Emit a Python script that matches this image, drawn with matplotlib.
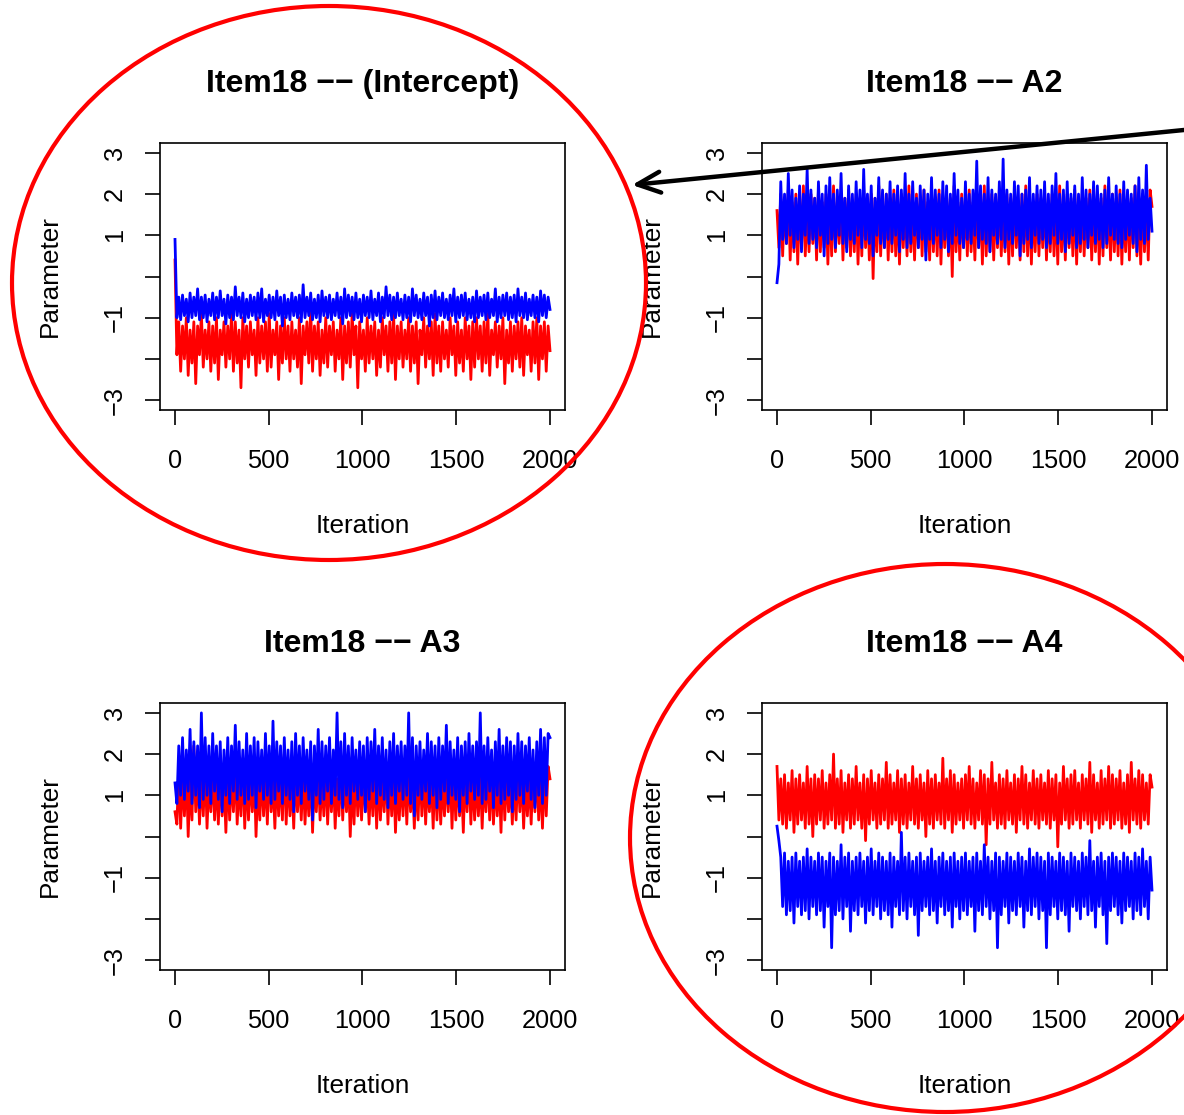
import numpy as np
import matplotlib
matplotlib.use('Agg')
import matplotlib.pyplot as plt
from matplotlib.patches import Ellipse

plt.rcParams['font.family'] = ['Liberation Sans', 'DejaVu Sans']

# ---------------- data ----------------
titles = ['Item18 \u2212\u2212 (Intercept)', 'Item18 \u2212\u2212 A2',
          'Item18 \u2212\u2212 A3', 'Item18 \u2212\u2212 A4']
x_ticks = [0, 500, 1000, 1500, 2000]
x_tick_labels = ['0', '500', '1000', '1500', '2000']
y_ticks = [-3, -2, -1, 0, 1, 2, 3]
y_tick_labels = ['\u22123', '', '\u22121', '', '1', '2', '3']
n_iter = 2000
chain_colors = ['#FF0000', '#0000FF']

# thinned chains (about every 10th iteration)
intercept_red = [
    0.4, -1.9, -1.1, -2.3, -1.2, -2.0, -1.0, -2.4, -1.3, -2.1, -1.1, -2.6, -1.2, -1.9, -0.9, -2.2, -1.3, -2.0, -1.1, -2.3,
    -1.2, -2.1, -1.0, -2.5, -1.3, -1.9, -1.1, -2.2, -1.2, -2.0, -0.9, -2.3, -1.1, -2.1, -1.3, -2.7, -1.0, -2.0, -1.2, -2.2,
    -1.1, -1.9, -1.3, -2.4, -1.0, -2.1, -1.2, -2.0, -1.1, -2.3, -0.9, -2.2, -1.3, -1.9, -1.1, -2.5, -1.2, -2.1, -1.0, -2.0,
    -1.2, -2.3, -1.1, -2.0, -1.3, -2.2, -1.0, -2.6, -1.2, -1.9, -1.1, -2.1, -0.8, -2.3, -1.2, -2.0, -1.1, -2.4, -1.3, -2.1,
    -1.0, -2.2, -1.2, -1.9, -1.1, -2.3, -1.3, -2.0, -1.0, -2.5, -1.2, -2.1, -1.1, -2.2, -0.9, -1.9, -1.2, -2.7, -1.1, -2.0,
    -1.3, -2.3, -1.0, -2.1, -1.2, -2.0, -1.1, -2.4, -1.3, -2.2, -1.0, -1.9, -1.2, -2.3, -1.1, -2.1, -0.9, -2.5, -1.2, -2.0,
    -1.1, -2.2, -1.3, -2.0, -1.0, -2.3, -1.2, -2.1, -1.1, -2.6, -1.3, -1.9, -1.0, -2.2, -1.2, -2.0, -1.1, -2.4, -0.9, -2.1,
    -1.2, -2.3, -1.1, -2.0, -1.3, -2.2, -1.0, -1.9, -1.2, -2.4, -1.1, -2.1, -1.3, -2.3, -1.0, -2.0, -1.2, -2.5, -1.1, -2.2,
    -1.0, -2.0, -1.2, -2.3, -1.1, -2.1, -0.9, -2.4, -1.3, -1.9, -1.1, -2.2, -1.2, -2.0, -1.0, -2.6, -1.3, -2.1, -1.1, -2.3,
    -1.2, -2.0, -1.1, -2.2, -1.0, -2.4, -1.2, -1.9, -1.3, -2.3, -1.1, -2.1, -1.0, -2.5, -1.2, -2.0, -1.1, -2.3, -1.2, -1.8]
intercept_blue = [
    0.9, -1.0, -0.5, -1.05, -0.45, -0.95, -0.55, -1.1, -0.4, -1.0, -0.5, -0.95, -0.3, -1.05, -0.5, -1.0, -0.45, -1.1, -0.55, -0.95,
    -0.4, -1.05, -0.5, -1.0, -0.35, -0.95, -0.55, -1.15, -0.45, -1.0, -0.5, -1.05, -0.25, -0.95, -0.5, -1.0, -0.4, -1.1, -0.55, -1.0,
    -0.45, -0.95, -0.5, -1.05, -0.4, -1.0, -0.3, -1.1, -0.55, -0.95, -0.45, -1.0, -0.5, -1.05, -0.35, -0.95, -0.5, -1.2, -0.45, -1.0,
    -0.55, -1.05, -0.4, -0.95, -0.5, -1.0, -0.45, -1.1, -0.2, -1.0, -0.5, -0.95, -0.4, -1.05, -0.55, -1.0, -0.45, -1.1, -0.35, -0.95,
    -0.5, -1.0, -0.45, -1.05, -0.55, -0.95, -0.4, -1.0, -0.5, -1.15, -0.3, -1.0, -0.45, -0.95, -0.5, -1.05, -0.4, -1.0, -0.55, -1.1,
    -0.45, -0.95, -0.5, -1.0, -0.35, -1.05, -0.55, -0.95, -0.4, -1.1, -0.5, -1.0, -0.25, -0.95, -0.45, -1.05, -0.5, -1.0, -0.4, -0.95,
    -0.55, -1.05, -0.45, -1.0, -0.5, -1.1, -0.3, -0.95, -0.45, -1.0, -0.55, -1.05, -0.4, -0.95, -0.5, -1.2, -0.45, -1.0, -0.35, -1.05,
    -0.5, -0.95, -0.4, -1.0, -0.55, -1.05, -0.45, -0.95, -0.3, -1.1, -0.5, -1.0, -0.45, -0.95, -0.4, -1.05, -0.55, -1.0, -0.5, -1.1,
    -0.35, -1.0, -0.5, -0.95, -0.45, -1.05, -0.4, -1.0, -0.55, -0.95, -0.3, -1.1, -0.5, -1.0, -0.45, -0.95, -0.4, -1.05, -0.5, -1.0,
    -0.45, -1.1, -0.3, -0.95, -0.5, -1.0, -0.4, -1.05, -0.55, -0.95, -0.45, -1.0, -0.5, -1.1, -0.35, -0.95, -0.45, -1.0, -0.5, -0.8]

a2_red = [
    1.6, 0.7, 2.0, 0.5, 1.9, 0.8, 2.1, 0.4, 1.8, 0.6, 2.0, 0.3, 1.9, 0.7, 2.2, 0.5, 1.8, 0.6, 2.0, 0.8,
    1.9, 0.4, 2.1, 0.6, 1.8, 0.7, 2.0, 0.3, 1.9, 0.5, 2.2, 0.6, 1.8, 0.8, 2.0, 0.4, 1.9, 0.7, 2.1, 0.5,
    1.8, 0.6, 2.0, 0.3, 1.9, 0.5, 2.1, 0.7, 1.8, 0.4, 2.0, -0.05, 1.9, 0.6, 2.2, 0.5, 1.8, 0.7, 2.0, 0.4,
    1.9, 0.6, 2.1, 0.5, 1.8, 0.3, 2.0, 0.7, 1.9, 0.5, 2.2, 0.6, 1.8, 0.4, 2.0, 0.7, 1.9, 0.5, 2.1, 0.6,
    1.8, 0.4, 2.0, 0.6, 1.9, 0.5, 2.1, 0.3, 1.8, 0.7, 2.0, 0.5, 1.9, 0.0, 2.2, 0.6, 1.8, 0.4, 2.0, 0.7,
    1.9, 0.5, 2.1, 0.6, 1.8, 0.4, 2.0, 0.7, 1.9, 0.3, 2.2, 0.5, 1.8, 0.6, 2.0, 0.4, 1.9, 0.7, 2.1, 0.5,
    1.8, 0.6, 2.0, 0.3, 1.9, 0.5, 2.1, 0.7, 1.8, 0.4, 2.0, 0.6, 2.2, 0.5, 1.9, 0.3, 1.8, 0.6, 2.0, 0.5,
    1.9, 0.7, 2.1, 0.4, 1.8, 0.6, 2.0, 0.5, 1.9, 0.3, 2.2, 0.6, 1.8, 0.4, 2.0, 0.7, 1.9, 0.5, 2.1, 0.3,
    1.8, 0.6, 2.0, 0.5, 1.9, 0.7, 2.1, 0.4, 1.8, 0.6, 2.0, 0.3, 1.9, 0.5, 2.2, 0.7, 1.8, 0.4, 2.0, 0.6,
    1.9, 0.5, 2.1, 0.3, 1.8, 0.6, 2.0, 0.4, 1.9, 0.7, 2.2, 0.5, 1.8, 0.3, 2.0, 0.6, 1.9, 0.4, 2.1, 1.7]
a2_blue = [
    -0.15, 0.3, 2.3, 0.9, 2.0, 0.8, 2.5, 1.0, 2.1, 0.7, 1.9, 0.9, 2.2, 0.6, 2.0, 1.0, 2.6, 0.8, 2.1, 0.9,
    1.9, 0.7, 2.3, 1.0, 2.0, 0.5, 2.2, 0.8, 2.4, 0.9, 2.0, 0.7, 2.1, 1.0, 2.5, 0.8, 1.9, 0.6, 2.2, 0.9,
    2.0, 0.8, 2.3, 1.0, 2.1, 0.7, 2.6, 0.9, 2.0, 0.8, 2.2, 0.5, 1.9, 1.0, 2.4, 0.8, 2.1, 0.7, 2.0, 0.9,
    2.3, 0.8, 2.0, 1.0, 2.2, 0.6, 2.1, 0.9, 2.5, 0.7, 2.0, 0.8, 2.3, 1.0, 1.9, 0.7, 2.2, 0.9, 2.1, 0.4,
    2.0, 0.9, 2.4, 0.8, 2.1, 1.0, 2.0, 0.7, 2.3, 0.9, 2.2, 0.6, 2.0, 0.8, 2.5, 1.0, 2.1, 0.8, 1.9, 0.7,
    2.3, 0.9, 2.0, 0.8, 2.1, 1.0, 2.8, 0.7, 2.2, 0.9, 2.0, 0.8, 2.4, 0.6, 2.1, 1.0, 2.0, 0.8, 2.3, 0.9,
    2.85, 0.7, 2.1, 0.9, 2.0, 0.8, 2.3, 1.0, 2.2, 0.5, 2.0, 0.8, 2.1, 0.9, 2.4, 0.7, 2.0, 1.0, 2.2, 0.8,
    2.1, 0.9, 2.3, 0.7, 2.0, 0.8, 2.2, 1.0, 2.5, 0.8, 2.0, 0.9, 2.1, 0.6, 2.3, 0.8, 2.0, 1.0, 2.2, 0.7,
    2.0, 0.8, 2.4, 0.9, 2.1, 0.7, 2.0, 1.0, 2.3, 0.8, 2.2, 0.9, 2.0, 0.7, 2.1, 0.8, 2.4, 1.0, 2.0, 0.9,
    2.2, 0.8, 2.0, 0.7, 2.3, 0.9, 2.1, 1.0, 2.0, 0.8, 2.2, 0.6, 2.4, 0.9, 2.1, 0.8, 2.7, 0.9, 1.9, 1.1]

a3_red = [
    0.6, 0.3, 1.6, 0.2, 1.5, 0.5, 1.7, 0.0, 1.4, 0.4, 2.2, 0.6, 1.6, 0.3, 1.5, 0.5, 1.8, 0.2, 1.4, 0.6,
    1.6, 0.4, 1.5, 0.3, 1.7, 0.5, 1.4, 0.1, 1.6, 0.4, 1.5, 0.6, 1.8, 0.3, 1.4, 0.5, 1.9, 0.2, 1.6, 0.4,
    1.5, 0.6, 1.7, 0.0, 1.4, 0.4, 1.6, 0.5, 1.5, 0.3, 1.8, 0.6, 1.4, 0.2, 1.6, 0.5, 1.5, 0.4, 2.0, 0.3,
    1.6, 0.5, 1.4, 0.2, 1.7, 0.6, 1.5, 0.4, 1.6, 0.3, 1.4, 0.5, 1.8, 0.1, 1.5, 0.6, 1.6, 0.4, 1.4, 0.5,
    1.7, 0.3, 1.5, 0.6, 1.6, 0.2, 1.4, 0.5, 1.8, 0.4, 1.5, 0.6, 1.6, 0.0, 1.4, 0.3, 1.7, 0.5, 1.5, 0.4,
    1.6, 0.6, 1.4, 0.3, 1.5, 0.5, 1.7, 0.2, 1.6, 0.4, 1.4, 0.6, 1.8, 0.3, 1.5, 0.5, 1.6, 0.1, 1.4, 0.4,
    1.5, 0.5, 1.7, 0.3, 1.6, 0.6, 1.4, 0.2, 1.5, 0.4, 1.8, 0.5, 1.6, 0.3, 1.4, 0.6, 1.5, 0.2, 1.7, 0.4,
    1.6, 0.3, 1.4, 0.5, 1.5, 0.6, 1.7, 0.2, 1.6, 0.4, 1.5, 0.5, 1.4, 0.1, 1.6, 0.6, 1.8, 0.3, 1.5, 0.4,
    1.4, 0.5, 1.6, 0.2, 1.5, 0.6, 1.7, 0.4, 1.6, 0.3, 1.4, 0.5, 1.5, 0.1, 1.8, 0.4, 1.6, 0.6, 1.4, 0.3,
    1.5, 0.4, 1.7, 0.6, 1.6, 0.2, 1.4, 0.5, 1.5, 0.3, 1.6, 0.6, 1.8, 0.4, 1.5, 0.2, 1.6, 0.5, 1.7, 1.4]
a3_blue = [
    1.3, 0.8, 2.2, 1.0, 2.4, 0.9, 2.1, 1.1, 2.6, 0.8, 2.3, 1.0, 2.2, 0.7, 3.0, 0.9, 2.4, 1.0, 2.2, 0.8,
    2.5, 1.1, 2.2, 0.9, 2.3, 0.6, 2.1, 1.0, 2.4, 0.8, 2.2, 1.1, 2.7, 0.9, 2.3, 1.0, 2.1, 0.8, 2.5, 0.9,
    2.2, 1.0, 2.4, 0.7, 2.3, 1.1, 2.1, 0.9, 2.5, 1.0, 2.2, 0.8, 2.8, 0.9, 2.3, 1.1, 2.2, 0.8, 2.4, 1.0,
    2.1, 0.9, 2.3, 0.6, 2.5, 1.0, 2.2, 0.8, 2.4, 1.1, 2.1, 0.9, 2.3, 0.4, 2.2, 1.0, 2.6, 0.8, 2.3, 0.9,
    2.2, 1.1, 2.4, 0.8, 2.1, 1.0, 3.0, 0.9, 2.3, 0.7, 2.5, 1.0, 2.2, 0.8, 2.4, 1.1, 2.1, 0.9, 2.3, 1.0,
    2.2, 0.6, 2.4, 0.9, 2.3, 1.1, 2.6, 0.8, 2.2, 1.0, 2.4, 0.9, 2.1, 0.7, 2.3, 1.0, 2.5, 0.8, 2.2, 1.1,
    2.3, 0.9, 2.2, 1.0, 3.0, 0.8, 2.4, 0.5, 2.2, 1.0, 2.3, 0.9, 2.1, 1.1, 2.5, 0.8, 2.3, 1.0, 2.2, 0.7,
    2.4, 0.9, 2.2, 1.1, 2.7, 0.8, 2.3, 1.0, 2.1, 0.9, 2.4, 0.6, 2.2, 1.0, 2.3, 0.8, 2.5, 1.1, 2.2, 0.9,
    2.3, 1.0, 3.0, 0.8, 2.2, 0.9, 2.4, 1.1, 2.1, 0.7, 2.3, 1.0, 2.6, 0.8, 2.2, 0.9, 2.4, 1.0, 2.3, 0.6,
    2.2, 0.9, 2.5, 1.0, 2.3, 0.8, 2.2, 1.1, 2.4, 0.9, 2.1, 0.7, 2.3, 1.0, 2.6, 0.8, 2.4, 1.0, 2.5, 2.4]

a4_red = [
    1.7, 0.4, 1.4, 0.3, 1.5, 0.2, 1.3, 0.4, 1.6, 0.1, 1.4, 0.3, 1.5, 0.4, 1.3, 0.2, 1.7, 0.3, 1.4, 0.0,
    1.5, 0.3, 1.4, 0.4, 1.6, 0.2, 1.3, 0.3, 1.5, 0.4, 2.0, 0.2, 1.4, 0.3, 1.6, 0.1, 1.3, 0.4, 1.5, 0.2,
    1.4, 0.3, 1.7, 0.4, 1.3, 0.2, 1.5, -0.1, 1.4, 0.3, 1.6, 0.4, 1.3, 0.2, 1.5, 0.3, 1.4, 0.4, 1.8, 0.2,
    1.5, 0.3, 1.3, 0.4, 1.6, 0.1, 1.4, 0.3, 1.5, 0.2, 1.3, 0.4, 1.7, 0.3, 1.4, 0.2, 1.5, 0.4, 1.3, 0.0,
    1.6, 0.3, 1.4, 0.2, 1.5, 0.4, 1.3, 0.3, 1.9, 0.2, 1.4, 0.4, 1.6, 0.1, 1.5, 0.3, 1.3, 0.4, 1.4, 0.2,
    1.5, 0.4, 1.7, 0.3, 1.4, 0.2, 1.3, 0.4, 1.6, 0.3, 1.5, -0.2, 1.4, 0.3, 1.8, 0.4, 1.3, 0.2, 1.5, 0.3,
    1.4, 0.2, 1.6, 0.4, 1.3, 0.3, 1.5, 0.1, 1.4, 0.4, 1.7, 0.3, 1.5, 0.2, 1.3, 0.4, 1.6, 0.3, 1.4, 0.2,
    1.5, 0.4, 1.3, 0.3, 1.6, 0.2, 1.4, 0.4, 1.5, -0.25, 1.3, 0.3, 1.7, 0.4, 1.4, 0.2, 1.5, 0.3, 1.6, 0.4,
    1.3, 0.2, 1.5, 0.4, 1.4, 0.3, 1.8, 0.1, 1.5, 0.4, 1.3, 0.2, 1.6, 0.3, 1.4, 0.4, 1.7, 0.2, 1.5, 0.3,
    1.4, 0.4, 1.6, 0.2, 1.3, 0.3, 1.5, 0.1, 1.8, 0.4, 1.4, 0.3, 1.6, 0.2, 1.5, 0.4, 1.3, 0.3, 1.5, 1.2]
a4_blue = [
    0.25, -0.1, -0.5, -1.7, -0.4, -1.9, -0.6, -1.8, -0.5, -2.1, -0.4, -1.7, -0.6, -1.9, -0.5, -1.8, -0.3, -2.0, -0.5, -1.7,
    -0.6, -1.9, -0.4, -1.8, -0.5, -2.2, -0.6, -1.7, -0.4, -2.7, -0.5, -1.9, -0.6, -1.8, -0.2, -2.0, -0.5, -1.7, -0.4, -2.3,
    -0.6, -1.8, -0.5, -1.9, -0.4, -1.7, -0.6, -2.1, -0.5, -1.8, -0.3, -1.9, -0.6, -1.7, -0.4, -2.0, -0.5, -1.8, -0.6, -1.9,
    -0.4, -2.2, -0.5, -1.7, -0.6, -1.9, 0.1, -1.8, -0.5, -2.0, -0.4, -1.7, -0.6, -1.9, -0.5, -2.4, -0.4, -1.8, -0.6, -1.7,
    -0.5, -1.9, -0.3, -1.8, -0.6, -2.1, -0.5, -1.7, -0.4, -1.9, -0.6, -1.8, -0.5, -2.2, -0.4, -1.7, -0.6, -2.0, -0.5, -1.8,
    -0.4, -1.9, -0.6, -1.7, -0.5, -2.3, -0.4, -1.8, -0.6, -1.9, -0.2, -1.7, -0.5, -2.0, -0.6, -1.8, -0.4, -2.7, -0.5, -1.9,
    -0.6, -1.7, -0.4, -2.1, -0.5, -1.8, -0.6, -1.9, -0.4, -1.7, -0.5, -2.2, -0.6, -1.8, -0.3, -1.9, -0.5, -1.7, -0.4, -2.0,
    -0.5, -1.8, -0.6, -2.7, -0.4, -1.9, -0.5, -1.7, -0.6, -2.0, -0.4, -1.8, -0.5, -1.9, -0.6, -2.3, -0.4, -1.7, -0.5, -1.8,
    -0.6, -2.0, -0.4, -1.7, -0.5, -1.9, -0.1, -1.8, -0.6, -2.2, -0.5, -1.7, -0.4, -1.9, -0.6, -2.6, -0.5, -1.8, -0.4, -1.7,
    -0.5, -1.9, -0.6, -2.1, -0.4, -1.8, -0.5, -1.7, -0.6, -2.0, -0.4, -1.8, -0.5, -1.9, -0.3, -1.7, -0.6, -2.0, -0.5, -1.3]

chains = [(intercept_red, intercept_blue), (a2_red, a2_blue),
          (a3_red, a3_blue), (a4_red, a4_blue)]

# ---------------- layout (pixels) ----------------
W, H = 1184, 1115
fig = plt.figure(figsize=(W / 100, H / 100), dpi=100)
box_w, box_h = 405, 267
boxes = [(160, 143), (762, 143), (160, 703), (762, 703)]

for (left, top), title, pair in zip(boxes, titles, chains):
    ax = fig.add_axes([left / W, 1 - (top + box_h) / H, box_w / W, box_h / H])
    for vals, col in zip(pair, chain_colors):
        it = np.linspace(1, n_iter, len(vals))
        ax.plot(it, vals, color=col, lw=2.0)
    ax.set_xlim(1 - 0.04 * 1999, n_iter + 0.04 * 1999)
    ax.set_ylim(-3.24, 3.24)
    ax.set_xticks(x_ticks)
    ax.set_xticklabels(x_tick_labels)
    ax.set_yticks(y_ticks)
    ax.set_yticklabels(y_tick_labels, rotation=90, va='center')
    ax.tick_params(direction='out', length=10.8, width=1.2, labelsize=18.3,
                   colors='black')
    ax.tick_params(axis='x', pad=17)
    ax.tick_params(axis='y', pad=13)
    for sp in ax.spines.values():
        sp.set_linewidth(1.2)
    ax.set_title(title, fontsize=23, fontweight='bold', pad=37)
    ax.set_xlabel('Iteration', fontsize=18.8)
    ax.xaxis.set_label_coords(0.5, (box_h - (514 - 143)) / box_h)
    ax.set_ylabel('Parameter', fontsize=18.8)
    ax.yaxis.set_label_coords((62 - 160) / box_w, 0.5)

# ---------------- annotations ----------------
ov = fig.add_axes([0, 0, 1, 1], zorder=10)
ov.set_xlim(0, W)
ov.set_ylim(H, 0)
ov.axis('off')
ov.patch.set_alpha(0)
ov.add_patch(Ellipse((329, 283), 634, 554, fill=False, ec='#FF0000', lw=3))
ov.add_patch(Ellipse((945, 838), 630, 548, fill=False, ec='#FF0000', lw=3))
ov.annotate('', xy=(632, 185), xytext=(1200, 128.4),
            arrowprops=dict(arrowstyle='->,head_length=0.55,head_width=0.25',
                            lw=3.2, color='black', mutation_scale=30,
                            shrinkA=0, shrinkB=0))

fig.savefig('out.png', dpi=100)
